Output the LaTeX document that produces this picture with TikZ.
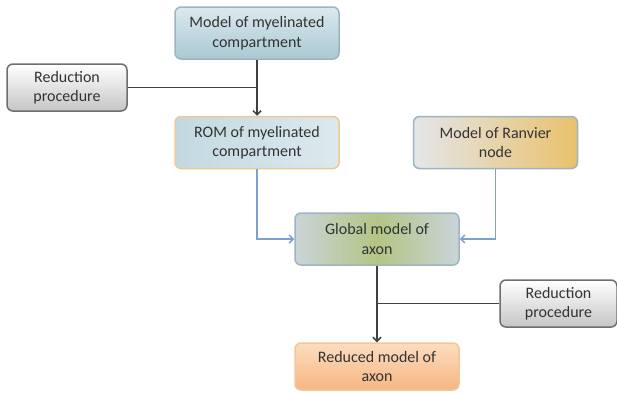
\documentclass[tikz,border=0pt]{standalone}
\usepackage{fontspec}
\setmainfont{Carlito}
\usetikzlibrary{arrows.meta}
\definecolor{txt}{HTML}{333333}
\definecolor{blueA}{HTML}{DCE9EE}
\definecolor{blueB}{HTML}{A9C9D3}
\definecolor{blueBorder}{HTML}{9DB4C2}
\definecolor{orangeBorder}{HTML}{EFC995}
\definecolor{ranvL}{HTML}{E4E6EA}
\definecolor{ranvR}{HTML}{E9C16C}
\definecolor{greenC}{HTML}{B3C585}
\definecolor{greyBorder}{HTML}{6E6E6E}
\definecolor{redA}{HTML}{F6B583}
\definecolor{redB}{HTML}{FCDDBF}
\definecolor{lineblue}{HTML}{7F9FCF}
\tikzset{
  box/.style={draw, line width=1.5pt, rounded corners=6pt, minimum width=164pt, minimum height=52pt,
    align=center, text=txt, font=\fontsize{16}{19.5}\selectfont, inner sep=2pt},
  graybox/.style={box, draw=greyBorder, minimum width=120pt, minimum height=47pt,
    top color=white, bottom color=gray!45},
  darkarrow/.style={draw=gray!50!black, line width=1.5pt, -{Straight Barb[length=4pt,width=8pt]}},
  darkline/.style={draw=gray!50!black, line width=1.5pt},
  bluearrow/.style={draw=lineblue, line width=1.5pt, -{Straight Barb[length=4pt,width=8pt]}},
}
\begin{document}
\begin{tikzpicture}[x=1pt,y=1pt]
\useasboundingbox (0,0) rectangle (617,-394);
\node[box, draw=blueBorder, top color=blueA, bottom color=blueB] (mm) at (257,-33) {Model of myelinated\\compartment};
\node[graybox] (r1) at (67,-87.5) {Reduction\\procedure};
\node[box, draw=orangeBorder, left color=blueB!70, right color=blueA] (rom) at (257,-142.5) {ROM of myelinated\\compartment};
\node[box, draw=blueBorder, left color=ranvL, right color=ranvR] (rv) at (495.5,-142.5) {Model of Ranvier\\node};
\node[box, draw=blueBorder, left color=blueA!80!gray, right color=blueA!80!gray, middle color=greenC] (gm) at (377,-239) {Global model of\\axon};
\node[graybox, minimum width=117pt] (r2) at (558.5,-303.5) {Reduction\\procedure};
\node[box, draw=orangeBorder, minimum height=47pt, top color=redB, bottom color=redA] (rd) at (377,-366.5) {Reduced model of\\axon};
\coordinate (j1) at (mm.south |- r1.east);
\coordinate (j2) at (gm.south |- r2.west);
\draw[darkarrow] (mm.south) -- (rom.north);
\draw[darkline] (r1.east) -- (j1);
\draw[darkarrow] (gm.south) -- (rd.north);
\draw[darkline] (r2.west) -- (j2);
\draw[bluearrow] (rom.south) |- (gm.west);
\draw[bluearrow] (rv.south) |- (gm.east);
\end{tikzpicture}
\end{document}
